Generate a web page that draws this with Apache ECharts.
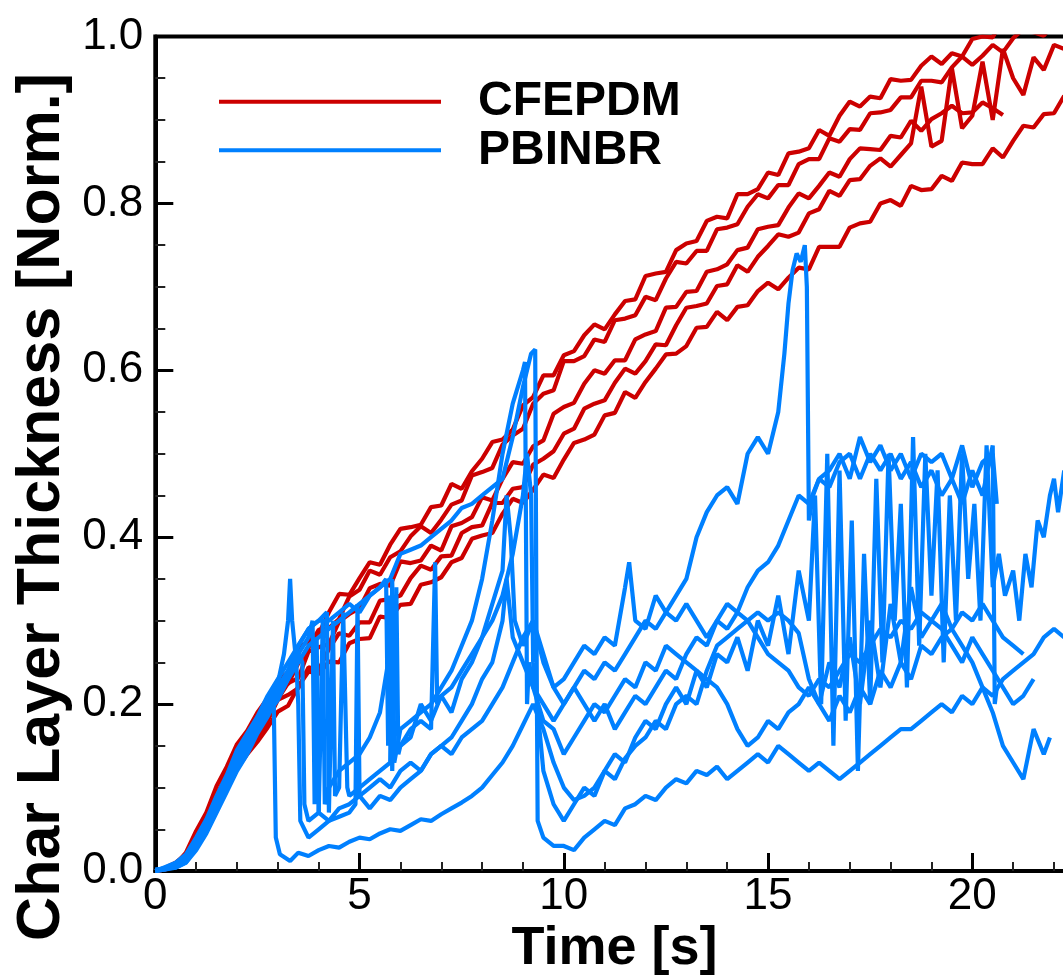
<!DOCTYPE html>
<html>
<head>
<meta charset="utf-8">
<script src="https://cdn.jsdelivr.net/npm/echarts@6/dist/echarts.min.js"></script>
<style>
html,body{margin:0;padding:0;background:#fff;}
#chart{width:1063px;height:978px;}
</style>
</head>
<body>
<div id="chart"></div>
<script>
// ---------- DATA ----------
const seriesNames = ['CFEPDM', 'PBINBR'];
const xTicks = [0, 5, 10, 15, 20];
const yTicks = ['0.0', '0.2', '0.4', '0.6', '0.8', '1.0'];
const redStep = 0.25; // sampling interval [s] of the CFEPDM records

const cfepdm1 = [0, .003, .008, .022, .048, .07, .102, .125, .152, .168, .19, .207, .229, .238, .267, .276, .284, .31, .332, .331, .351, .37, .367, .391, .41, .412, .415, .436, .438, .464, .458, .479, .494, .514, .517, .529, .558, .568, .594, .594, .618, .623, .642, .655, .649, .667, .683, .685, .713, .716, .718, .744, .752, .755, .779, .784, .782, .811, .811, .817, .837, .834, .86, .862, .866, .888, .881, .905, .922, .916, .928, .926, .949, .947, .948, .965, .976, .967, .98, .976, .997, 1.0, .999, 1.022, 1.018, 1.029, 1.025, 1.043, 1.041, 1.042];
const cfepdm2 = [0, .004, .01, .02, .042, .068, .09, .118, .138, .16, .178, .2, .226, .224, .249, .268, .289, .291, .302, .329, .337, .36, .355, .376, .383, .401, .413, .405, .421, .439, .444, .474, .478, .483, .511, .522, .53, .56, .572, .576, .611, .611, .617, .637, .634, .66, .662, .666, .688, .684, .71, .73, .728, .743, .743, .769, .771, .775, .796, .811, .806, .822, .822, .847, .853, .853, .878, .874, .889, .888, .908, .909, .912, .927, .927, .947, .947, .945, .963, .976, .966, .977, .99, .981, .998, 1.009, 1.005, 1.001, 1.016, 1.012];
const cfepdm3 = [0, .002, .007, .018, .04, .06, .085, .11, .132, .15, .168, .19, .206, .225, .231, .263, .268, .272, .299, .308, .315, .339, .344, .342, .371, .369, .372, .39, .384, .413, .417, .424, .448, .444, .47, .49, .488, .509, .516, .548, .556, .561, .584, .6, .596, .612, .612, .637, .643, .647, .675, .676, .694, .695, .718, .721, .727, .744, .747, .769, .772, .774, .795, .812, .806, .821, .837, .832, .853, .866, .865, .864, .881, .879, .899, .887, .901, .908, .917, .908, .909, .921, .914, .906];
const cfepdm4 = [0, .003, .006, .015, .038, .058, .08, .105, .128, .145, .16, .18, .205, .211, .219, .244, .241, .266, .285, .282, .298, .298, .324, .326, .33, .351, .366, .361, .377, .378, .405, .412, .414, .441, .441, .458, .46, .487, .494, .503, .524, .53, .554, .56, .564, .585, .602, .596, .611, .631, .63, .654, .675, .677, .68, .701, .703, .726, .718, .736, .749, .763, .76, .765, .788, .793, .815, .809, .828, .829, .845, .854, .844, .858, .872, .94, .868, .875, .962, .89, .905, .97, .9, .985, .95, .93, .975, .96, .99, .985];
const cfepdm5 = [0, .002, .005, .012, .032, .05, .075, .1, .122, .14, .155, .172, .191, .198, .221, .239, .236, .251, .25, .273, .278, .279, .305, .303, .319, .32, .343, .346, .352, .37, .375, .398, .402, .405, .428, .446, .441, .457, .475, .471, .493, .513, .517, .523, .546, .549, .574, .567, .586, .602, .619, .62, .629, .651, .652, .67, .66, .676, .678, .695, .705, .697, .711, .723, .721, .748, .748, .748, .771, .776, .778, .8, .804, .797, .821, .816, .817, .833, .827, .849, .847, .847, .866, .855, .875, .893, .891, .907, .908, .929];

// PBINBR records: [time s, thickness]
const pbinbr1 = [[0,0],[.25,.003],[.5,.005],[.75,.012],[1,.03],[1.25,.05],[1.5,.078],[1.75,.1],[2,.128],[2.25,.148],[2.5,.17],[2.75,.19],[2.9,.2],[2.95,.04],[3.05,.02],[3.3,.012],[3.5,.022],[3.75,.018],[4,.025],[4.25,.03],[4.5,.028],[4.75,.035],[5,.04],[5.25,.038],[5.5,.045],[5.75,.05],[6,.048],[6.25,.055],[6.5,.062],[6.75,.06],[7,.068],[7.25,.075],[7.5,.082],[7.75,.09],[8,.1],[8.25,.115],[8.5,.13],[8.75,.15],[9,.175],[9.25,.2],[9.5,.17],[9.75,.13],[10,.1],[10.25,.085],[10.5,.09],[10.75,.1],[11,.12],[11.25,.11],[11.5,.135],[11.75,.15],[12,.16],[12.25,.18],[12.5,.17],[12.75,.2],[13,.21],[13.25,.2],[13.5,.24],[13.75,.27],[14,.28],[14.25,.29],[14.5,.3],[14.75,.31],[15,.3],[15.25,.31],[15.5,.3],[15.75,.285],[16,.23],[16.25,.2],[16.5,.18],[16.75,.21],[17,.19],[17.25,.22],[17.5,.2],[17.75,.24],[18,.22],[18.25,.25],[18.5,.23],[18.75,.27],[19,.26],[19.25,.28],[19.5,.29],[19.75,.31],[20,.3],[20.25,.32],[20.5,.3],[20.75,.28],[21,.27],[21.25,.26]];
const pbinbr2 = [[0,0],[.25,.004],[.5,.008],[.75,.016],[1,.036],[1.25,.058],[1.5,.085],[1.75,.11],[2,.14],[2.25,.16],[2.5,.18],[2.75,.205],[3,.225],[3.15,.26],[3.25,.3],[3.3,.35],[3.35,.3],[3.45,.25],[3.5,.2],[3.55,.06],[3.75,.04],[4,.05],[4.25,.06],[4.5,.075],[4.75,.08],[5,.09],[5.25,.1],[5.5,.11],[5.75,.1],[6,.12],[6.25,.13],[6.5,.12],[6.75,.14],[7,.15],[7.25,.14],[7.5,.16],[7.75,.17],[8,.18],[8.25,.2],[8.5,.22],[8.75,.25],[9,.28],[9.25,.3],[9.5,.26],[9.75,.22],[10,.23],[10.25,.25],[10.5,.27],[10.75,.26],[11,.28],[11.25,.27],[11.5,.34],[11.6,.37],[11.75,.3],[12,.29],[12.25,.33],[12.5,.31],[12.75,.33],[13,.35],[13.25,.4],[13.5,.43],[13.75,.45],[14,.46],[14.25,.44],[14.5,.5],[14.75,.52],[15,.5],[15.25,.55],[15.4,.62],[15.5,.68],[15.6,.72],[15.7,.74],[15.8,.73],[15.9,.75],[15.95,.7],[16,.42],[16.1,.45],[16.25,.47],[16.5,.48],[16.75,.5],[17,.47],[17.25,.52],[17.5,.49],[17.75,.51],[18,.48],[18.25,.5],[18.5,.47],[18.75,.5],[19,.49],[19.25,.5],[19.5,.47],[19.75,.51],[20,.46],[20.25,.49],[20.5,.5],[20.6,.44]];
const pbinbr3 = [[0,0],[.25,.002],[.5,.006],[.75,.014],[1,.032],[1.25,.055],[1.5,.08],[1.75,.105],[2,.135],[2.25,.155],[2.5,.178],[2.75,.2],[3,.22],[3.25,.24],[3.5,.27],[3.75,.29],[4,.3],[4.25,.3],[4.5,.31],[4.75,.32],[5,.31],[5.25,.33],[5.5,.34],[5.75,.35],[6,.38],[6.25,.385],[6.5,.39],[6.75,.4],[7,.41],[7.25,.42],[7.5,.435],[7.75,.44],[8,.45],[8.25,.46],[8.5,.47],[8.75,.52],[9,.58],[9.1,.6],[9.2,.62],[9.3,.625],[9.33,.3],[9.36,.06],[9.5,.04],[9.75,.03],[10,.03],[10.25,.025],[10.5,.04],[10.75,.05],[11,.06],[11.25,.055],[11.5,.075],[11.75,.08],[12,.09],[12.25,.085],[12.5,.1],[12.75,.11],[13,.105],[13.25,.12],[13.5,.115],[13.75,.125],[14,.11],[14.25,.12],[14.5,.13],[14.75,.14],[15,.13],[15.25,.15],[15.5,.14],[15.75,.13],[16,.12],[16.25,.13],[16.5,.12],[16.75,.11],[17,.12],[17.25,.13],[17.5,.14],[17.75,.15],[18,.16],[18.25,.17],[18.5,.17],[18.75,.18],[19,.19],[19.25,.2],[19.5,.19],[19.75,.21],[20,.2],[20.25,.22],[20.5,.21],[20.75,.23],[21,.24],[21.25,.25],[21.5,.26],[21.75,.28],[22,.29],[22.25,.28]];
const pbinbr4 = [[0,.002],[.25,.003],[.5,.004],[.75,.01],[1,.025],[1.25,.045],[1.5,.07],[1.75,.095],[2,.12],[2.25,.14],[2.5,.165],[2.75,.185],[3,.21],[3.25,.23],[3.5,.26],[3.6,.25],[3.65,.08],[3.75,.06],[4,.07],[4.1,.3],[4.15,.08],[4.25,.1],[4.5,.12],[4.75,.13],[5,.14],[5.25,.16],[5.5,.19],[5.6,.22],[5.7,.25],[5.75,.22],[5.85,.13],[6,.17],[6.25,.18],[6.5,.19],[6.75,.2],[7,.22],[7.25,.24],[7.5,.27],[7.75,.3],[8,.35],[8.25,.42],[8.5,.5],[8.75,.56],[9,.6],[9.05,.61],[9.1,.2],[9.15,.25],[9.25,.22],[9.5,.18],[9.75,.17],[10,.14],[10.25,.16],[10.5,.18],[10.75,.2],[11,.19],[11.25,.21],[11.5,.23],[11.75,.22],[12,.25],[12.25,.24],[12.5,.27],[12.75,.26],[13,.25],[13.25,.24],[13.5,.23],[13.75,.22],[14,.2],[14.25,.17],[14.5,.15],[14.75,.16],[15,.18],[15.25,.17],[15.5,.19],[15.75,.2],[16,.22],[16.25,.2],[16.5,.25],[16.75,.22],[17,.28],[17.25,.2],[17.5,.3],[17.75,.22],[18,.32],[18.25,.25],[18.5,.34],[18.75,.28],[19,.3],[19.25,.32],[19.5,.29],[19.75,.27],[20,.25],[20.25,.22],[20.5,.19],[20.75,.15],[21,.13],[21.25,.11],[21.5,.17],[21.75,.14],[21.9,.16]];
const pbinbr5 = [[0,0],[.25,.005],[.5,.01],[.75,.02],[1,.04],[1.25,.062],[1.5,.09],[1.75,.115],[2,.145],[2.25,.165],[2.5,.185],[2.75,.21],[3,.23],[3.25,.25],[3.5,.27],[3.75,.29],[4,.3],[4.2,.31],[4.25,.07],[4.35,.3],[4.4,.09],[4.5,.1],[4.6,.31],[4.7,.1],[4.75,.09],[5,.1],[5.25,.11],[5.5,.12],[5.75,.13],[5.8,.35],[5.85,.14],[6,.15],[6.25,.17],[6.5,.18],[6.75,.17],[6.85,.37],[6.9,.2],[7,.21],[7.25,.22],[7.5,.24],[7.75,.26],[8,.28],[8.25,.3],[8.5,.33],[8.75,.38],[9,.45],[9.1,.5],[9.2,.45],[9.25,.25],[9.5,.12],[9.75,.08],[10,.06],[10.25,.08],[10.5,.1],[10.75,.09],[11,.12],[11.25,.14],[11.5,.13],[11.75,.16],[12,.18],[12.25,.17],[12.5,.2],[12.75,.22],[13,.2],[13.25,.24],[13.5,.22],[13.75,.26],[14,.25],[14.25,.28],[14.5,.24],[14.75,.3],[15,.27],[15.25,.33],[15.5,.26],[15.75,.36],[16,.3],[16.15,.45],[16.3,.2],[16.45,.5],[16.6,.15],[16.75,.48],[16.9,.18],[17.05,.42],[17.2,.12],[17.35,.38],[17.5,.2],[17.65,.47],[17.8,.25],[17.95,.5],[18.1,.3],[18.25,.44],[18.4,.22],[18.55,.52],[18.7,.27],[18.85,.5],[19,.33],[19.15,.48],[19.3,.25],[19.45,.45],[19.6,.3],[19.75,.5],[19.9,.35],[20.05,.44],[20.2,.3],[20.35,.51],[20.5,.34],[20.65,.38],[20.8,.33],[21,.36],[21.15,.3],[21.3,.38],[21.45,.34],[21.6,.42],[21.75,.4],[21.9,.45],[22,.47],[22.1,.43],[22.25,.48]];
const pbinbr6 = [[0,0],[.25,.003],[.5,.007],[.75,.018],[1,.038],[1.25,.06],[1.5,.088],[1.75,.112],[2,.138],[2.25,.158],[2.5,.178],[2.75,.196],[3,.215],[3.25,.24],[3.5,.26],[3.75,.28],[3.85,.3],[3.9,.08],[3.95,.28],[4,.07],[4.25,.06],[4.5,.065],[4.75,.07],[4.9,.08],[4.95,.32],[5,.09],[5.25,.075],[5.5,.09],[5.75,.085],[6,.1],[6.25,.11],[6.5,.12],[6.75,.14],[7,.15],[7.25,.16],[7.5,.18],[7.75,.2],[8,.23],[8.25,.25],[8.5,.3],[8.6,.35],[8.75,.28],[9,.25],[9.25,.22],[9.5,.2],[9.75,.18],[10,.2],[10.25,.22],[10.5,.24],[10.75,.23],[11,.25],[11.25,.24],[11.5,.26],[11.75,.28],[12,.3],[12.25,.29],[12.5,.31],[12.75,.3],[13,.32],[13.25,.3],[13.5,.28],[13.75,.3],[14,.29],[14.25,.31],[14.5,.3],[14.75,.28],[15,.26],[15.25,.25],[15.5,.24],[15.75,.22],[16,.21],[16.25,.23],[16.5,.22],[16.75,.24],[17,.26],[17.25,.25],[17.5,.27],[17.75,.29],[18,.28],[18.25,.3],[18.5,.29],[18.75,.31],[19,.3],[19.25,.29],[19.5,.27],[19.75,.25],[20,.28],[20.25,.26],[20.5,.24],[20.75,.22],[21,.2],[21.25,.21],[21.5,.23]];
const pbinbr7 = [[0,0],[.25,.002],[.5,.004],[.75,.01],[1,.028],[1.25,.048],[1.5,.072],[1.75,.098],[2,.125],[2.25,.146],[2.5,.168],[2.75,.188],[3,.205],[3.25,.23],[3.5,.25],[3.75,.27],[4,.28],[4.25,.29],[4.5,.3],[4.75,.31],[5,.32],[5.25,.33],[5.5,.34],[5.65,.35],[5.7,.15],[5.75,.33],[5.8,.12],[5.9,.34],[5.95,.14],[6,.15],[6.25,.16],[6.5,.2],[6.75,.18],[7,.21],[7.25,.19],[7.5,.23],[7.75,.25],[8,.28],[8.25,.32],[8.5,.36],[8.6,.45],[8.7,.4],[8.8,.3],[9,.27],[9.25,.3],[9.5,.25],[9.75,.22],[10,.2],[10.25,.22],[10.5,.2],[10.75,.18],[11,.2],[11.25,.17],[11.5,.19],[11.75,.21],[12,.2],[12.25,.22],[12.5,.24],[12.75,.23],[13,.26],[13.25,.28],[13.5,.27],[13.75,.3],[14,.32],[14.25,.31],[14.5,.34],[14.75,.36],[15,.37],[15.25,.39],[15.5,.42],[15.75,.45],[16,.44],[16.25,.47],[16.5,.46],[16.75,.49],[17,.5],[17.25,.47],[17.5,.5],[17.75,.48],[18,.5],[18.25,.47],[18.5,.49],[18.75,.46],[19,.48],[19.25,.45],[19.5,.47],[19.75,.44],[20,.48],[20.25,.45],[20.5,.51],[20.55,.2],[20.6,.22]];

const redSet = [cfepdm1, cfepdm2, cfepdm3, cfepdm4, cfepdm5];
const blueSet = [pbinbr1, pbinbr2, pbinbr3, pbinbr4, pbinbr5, pbinbr6, pbinbr7];

// ---------- CHART ----------
const RED = '#cc0000', BLUE = '#0080ff';
const FONT = '"Liberation Sans", Arial, Helvetica, sans-serif';
const chart = echarts.init(document.getElementById('chart'), null, {renderer: 'canvas'});

const series = [];
redSet.forEach(vals => {
  series.push({
    name: seriesNames[0], type: 'line', symbol: 'none', animation: false,
    data: vals.map((v, i) => [i * redStep, v]),
    lineStyle: {color: RED, width: 4.2}, itemStyle: {color: RED}, z: 2
  });
});
blueSet.forEach(pts => {
  series.push({
    name: seriesNames[1], type: 'line', symbol: 'none', animation: false,
    data: pts, lineStyle: {color: BLUE, width: 4.2}, itemStyle: {color: BLUE}, z: 3
  });
});

chart.setOption({
  animation: false,
  backgroundColor: '#fff',
  grid: {left: 155.3, top: 36.5, width: 1021.25, height: 834.5, show: true,
         outerBoundsMode: 'none', containLabel: false,
         borderColor: '#000', borderWidth: 4, backgroundColor: 'transparent'},
  legend: {
    data: seriesNames, orient: 'vertical', left: 214, top: 72.4,
    icon: 'rect', itemWidth: 222, itemHeight: 4, itemGap: 0,
    textStyle: {fontFamily: FONT, fontWeight: 'bold', fontSize: 48, color: '#000',
                lineHeight: 48.6, padding: [0, 0, 0, 32]},
    selectedMode: false
  },
  xAxis: {
    type: 'value', min: 0, max: 25, interval: 5,
    axisLine: {show: true, onZero: false, lineStyle: {color: '#000', width: 4}},
    axisTick: {show: true, inside: true, length: 18, lineStyle: {color: '#000', width: 3}},
    minorTick: {show: true, splitNumber: 5, length: 9, lineStyle: {color: '#222', width: 2}},
    splitLine: {show: false}, minorSplitLine: {show: false},
    axisLabel: {fontFamily: FONT, fontSize: 44, color: '#000', margin: 4,
                formatter: v => (xTicks.indexOf(v) >= 0 ? String(v) : '')}
  },
  yAxis: {
    type: 'value', min: 0, max: 1, interval: 0.2,
    axisLine: {show: true, onZero: false, lineStyle: {color: '#000', width: 4}},
    axisTick: {show: true, inside: true, length: 18, lineStyle: {color: '#000', width: 3}},
    minorTick: {show: true, splitNumber: 4, length: 10, lineStyle: {color: '#222', width: 2}},
    splitLine: {show: false}, minorSplitLine: {show: false},
    axisLabel: {fontFamily: FONT, fontSize: 44, color: '#000', margin: 12,
                formatter: v => yTicks[Math.round(v / 0.2)]}
  },
  graphic: [
    {type: 'text', x: 614.5, y: 949, z: 10,
     style: {text: 'Time [s]', fontFamily: FONT, fontWeight: 'bold', fontSize: 54,
             fill: '#000', textAlign: 'center', textVerticalAlign: 'middle'}},
    {type: 'text', x: 42.5, y: 507, rotation: Math.PI / 2, z: 10,
     style: {text: 'Char Layer Thickness [Norm.]', fontFamily: FONT, fontWeight: 'bold', fontSize: 61,
             fill: '#000', textAlign: 'center', textVerticalAlign: 'middle'}}
  ],
  series: series
});
</script>
</body>
</html>
